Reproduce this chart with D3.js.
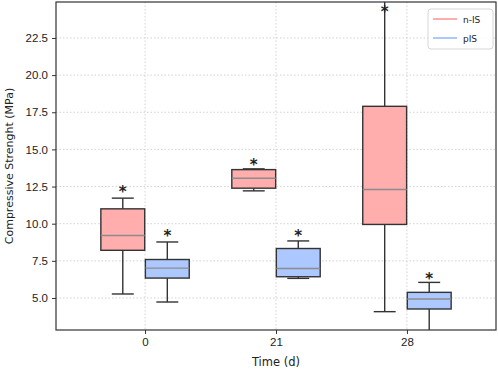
<!DOCTYPE html>
<html>
<head>
<meta charset="utf-8">
<script src="https://cdn.jsdelivr.net/npm/d3@7"></script>
<style>
  body { margin: 0; background: #fff; }
  svg { font-family: "DejaVu Sans", sans-serif; }
  .grid line { stroke: #c8c8c8; stroke-dasharray: 1.5,2; stroke-width: 0.8; }
</style>
</head>
<body>
<div id="chart"></div>
<script>
// chart values
var days = ["0", "21", "28"];
var seriesNames = ["n-IS", "pIS"];
var seriesColors = ["#ffadad", "#adc8ff"];

// [whiskerLow, q1, median, q3, whiskerHigh] per day
var nIS = [
    [5.27, 8.21, 9.21, 11.0, 11.72],
    [12.21, 12.39, 13.06, 13.64, 13.69],
    [4.08, 9.95, 12.3, 17.9, 25.3]
];
var pIS = [
    [4.73, 6.34, 7.01, 7.59, 8.77],
    [6.32, 6.43, 6.98, 8.33, 8.84],
    [2.5, 4.26, 4.93, 5.38, 6.05]
];
// significance markers (y position of the "*")
var nISStar = [12.3, 14.1, 24.35];
var pISStar = [9.3, 9.3, 6.4];

var yTicks = [5.0, 7.5, 10.0, 12.5, 15.0, 17.5, 20.0, 22.5];

var width = 498, height = 370;
var margin = { top: 2, right: 2, bottom: 40, left: 56 };

var svg = d3.select("#chart").append("svg")
    .attr("width", width)
    .attr("height", height);

var x = d3.scaleLinear()
    .domain([0.32, 3.68])
    .range([margin.left, width - margin.right]);

var y = d3.scaleLinear()
    .domain([2.846, 24.92])
    .range([height - margin.bottom, margin.top]);

svg.append("defs").append("clipPath").attr("id", "plotclip")
    .append("rect")
    .attr("x", margin.left).attr("y", margin.top)
    .attr("width", width - margin.left - margin.right)
    .attr("height", height - margin.top - margin.bottom);

/*** GRID */
var grid = svg.append("g").attr("class", "grid");
grid.selectAll(".hg").data(yTicks).enter().append("line")
    .attr("x1", margin.left).attr("x2", width - margin.right)
    .attr("y1", d => y(d)).attr("y2", d => y(d));
grid.selectAll(".vg").data(days).enter().append("line")
    .attr("x1", (d, i) => x(i + 1)).attr("x2", (d, i) => x(i + 1))
    .attr("y1", margin.top).attr("y2", height - margin.bottom);

/*** BOXES */
var boxW = 0.335;
var plot = svg.append("g").attr("clip-path", "url(#plotclip)");

function drawSeries(data, stars, offset, color) {
    data.forEach(function(d, i) {
        var cx = i + 1 + offset;
        var g = plot.append("g");
        var xl = x(cx - boxW / 2), xr = x(cx + boxW / 2), xc = x(cx);
        var capL = x(cx - boxW / 4), capR = x(cx + boxW / 4);
        // whiskers
        g.append("line").attr("x1", xc).attr("x2", xc)
            .attr("y1", y(d[0])).attr("y2", y(d[1]))
            .attr("stroke", "#333").attr("stroke-width", 1.4);
        g.append("line").attr("x1", xc).attr("x2", xc)
            .attr("y1", y(d[3])).attr("y2", y(d[4]))
            .attr("stroke", "#333").attr("stroke-width", 1.4);
        g.append("line").attr("x1", capL).attr("x2", capR)
            .attr("y1", y(d[0])).attr("y2", y(d[0]))
            .attr("stroke", "#333").attr("stroke-width", 1.4);
        g.append("line").attr("x1", capL).attr("x2", capR)
            .attr("y1", y(d[4])).attr("y2", y(d[4]))
            .attr("stroke", "#333").attr("stroke-width", 1.4);
        // box
        g.append("rect")
            .attr("x", xl).attr("y", y(d[3]))
            .attr("width", xr - xl).attr("height", y(d[1]) - y(d[3]))
            .attr("fill", color).attr("stroke", "#333").attr("stroke-width", 1.4);
        // median
        g.append("line").attr("x1", xl).attr("x2", xr)
            .attr("y1", y(d[2])).attr("y2", y(d[2]))
            .attr("stroke", "#8c8c8c").attr("stroke-width", 1.4);
        // star
        g.append("text")
            .attr("x", xc).attr("y", y(stars[i]) + 7)
            .attr("text-anchor", "middle")
            .style("font-size", "15px").style("font-weight", "bold")
            .attr("fill", "#222")
            .text("*");
    });
}

drawSeries(nIS, nISStar, -0.17, seriesColors[0]);
drawSeries(pIS, pISStar, 0.17, seriesColors[1]);

/*** AXES */
var xAxis = d3.axisBottom(x)
    .tickValues([1, 2, 3])
    .tickFormat((d, i) => days[i])
    .tickSize(4).tickPadding(4);
var yAxis = d3.axisLeft(y)
    .tickValues(yTicks)
    .tickFormat(d3.format(".1f"))
    .tickSize(4).tickPadding(4);

svg.append("g")
    .attr("transform", "translate(0," + (height - margin.bottom) + ")")
    .call(xAxis)
    .call(g => g.select(".domain").remove());
svg.append("g")
    .attr("transform", "translate(" + margin.left + ",0)")
    .call(yAxis)
    .call(g => g.select(".domain").remove());

svg.selectAll(".tick text").style("font-size", "11.5px").attr("fill", "#222");
svg.selectAll(".tick line").attr("stroke", "#333");

// frame
svg.append("rect")
    .attr("x", margin.left).attr("y", margin.top)
    .attr("width", width - margin.left - margin.right)
    .attr("height", height - margin.top - margin.bottom)
    .attr("fill", "none").attr("stroke", "#333").attr("stroke-width", 1.2);

/*** LABELS */
svg.append("text")
    .attr("x", x(2)).attr("y", 366)
    .attr("text-anchor", "middle")
    .style("font-size", "11.5px").attr("fill", "#222")
    .text("Time (d)");
svg.append("text")
    .attr("transform", "translate(13," + ((margin.top + height - margin.bottom) / 2) + ") rotate(-90)")
    .attr("text-anchor", "middle")
    .style("font-size", "11px").attr("fill", "#222")
    .text("Compressive Strenght (MPa)");

/*** LEGEND */
var legend = svg.append("g").attr("transform", "translate(428,9)");
legend.append("rect")
    .attr("width", 65).attr("height", 40).attr("rx", 3)
    .attr("fill", "#fff").attr("fill-opacity", 0.85)
    .attr("stroke", "#d6d6d6");
seriesNames.forEach(function(name, i) {
    legend.append("line")
        .attr("x1", 5).attr("x2", 29)
        .attr("y1", 10 + i * 19).attr("y2", 10 + i * 19)
        .attr("stroke", seriesColors[i]).attr("stroke-width", 2);
    legend.append("text")
        .attr("x", 35).attr("y", 13.5 + i * 19)
        .style("font-size", "9px").attr("fill", "#222")
        .text(name);
});
</script>
</body>
</html>
